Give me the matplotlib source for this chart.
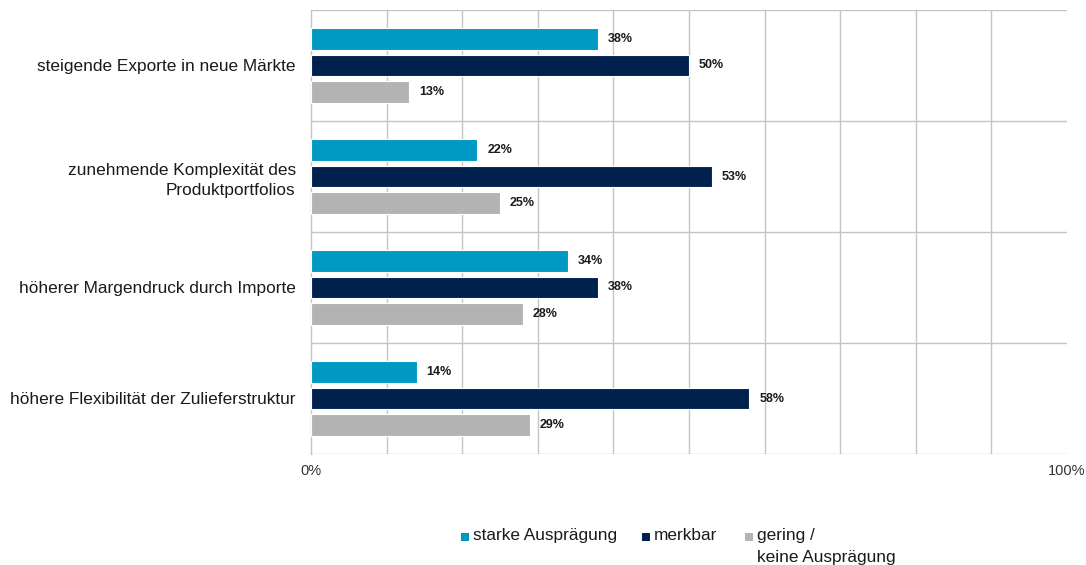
import matplotlib
matplotlib.use("Agg")
import matplotlib.pyplot as plt
from matplotlib.patches import Rectangle
import numpy as np

plt.rcParams['font.family'] = ['Liberation Sans', 'DejaVu Sans']

categories = ["steigende Exporte in neue Märkte",
              "zunehmende Komplexität des\nProduktportfolios",
              "höherer Margendruck durch Importe",
              "höhere Flexibilität der Zulieferstruktur"]
series_names = ["starke Ausprägung", "merkbar", "gering /\nkeine Ausprägung"]
starke = [38, 22, 34, 14]
merkbar = [50, 53, 38, 58]
gering = [13, 25, 28, 29]
colors = ["#0099C4", "#00214D", "#B3B3B3"]

W, H = 1086, 565
fig = plt.figure(figsize=(W/100, H/100), dpi=100)
ax = fig.add_axes([311/W, 1-454/H, (1067-311)/W, (454-10)/H])

y = np.arange(len(categories))
offsets = [-0.236, 0, 0.236]
bh = 0.195
for vals, off, col, name in zip([starke, merkbar, gering], offsets, colors, series_names):
    bars = ax.barh(y + off, vals, height=bh, color=col, edgecolor='white', linewidth=0.8, label=name, zorder=3)
    for b, v in zip(bars, vals):
        ax.text(b.get_width() + 1.3, b.get_y() + b.get_height()/2, f"{v}%",
                va='center', ha='left', fontsize=9, fontweight='bold', color='#1a1a1a', zorder=4)

ax.set_xlim(0, 100)
ax.set_ylim(3.5, -0.5)
ax.set_xticks([0, 100])
ax.set_xticklabels(["0%", "100%"], fontsize=10.5, color='#333333')
ax.set_xticks(np.arange(0, 101, 10), minor=True)
ax.set_yticks(y)
ax.set_yticklabels(categories, fontsize=12.4, color='#1a1a1a', multialignment='right', linespacing=1.45)
ax.set_yticks(np.arange(-0.5, 3.6, 1), minor=True)
ax.tick_params(axis='both', which='both', length=0)
ax.tick_params(axis='y', pad=11)
ax.tick_params(axis='x', pad=7)
ax.grid(True, which='minor', color='#C4C4C4', linewidth=1.0, zorder=0)
for s in ['top', 'right', 'bottom']:
    ax.spines[s].set_visible(False)
ax.spines['left'].set_color('#C4C4C4')
ax.spines['left'].set_linewidth(1.0)

# legend (manual, top-aligned like the reference)
leg_x = [461, 642, 745]
for xp, col, name in zip(leg_x, colors, series_names):
    fig.patches.append(Rectangle((xp/W, 1-541/H), 8/W, 8/H, transform=fig.transFigure,
                                 facecolor=col, edgecolor='none'))
    fig.text((xp+12)/W, 1-528/H, name, fontsize=12.4, color='#1a1a1a', va='top', ha='left',
             linespacing=1.6)

fig.savefig("out.png", dpi=100)
